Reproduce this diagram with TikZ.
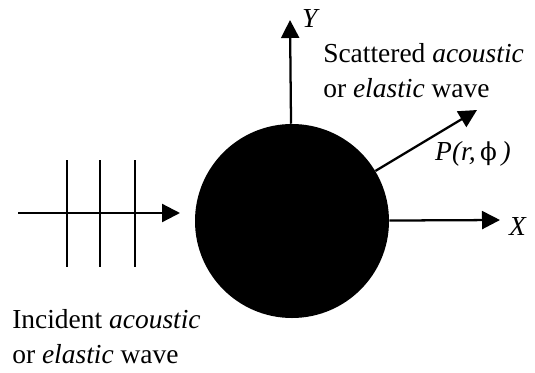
\documentclass[tikz,border=0pt]{standalone}
\usepackage{fontspec}
\setmainfont{Liberation Serif}
\newfontfamily\grkfont{DejaVu Serif}
\usetikzlibrary{positioning,arrows.meta}

\begin{document}
\begin{tikzpicture}[x=0.75pt,y=-0.75pt,
      font=\fontsize{20.6}{26.3}\selectfont,
      ball/.style={circle,fill=black,inner sep=0pt,minimum size=145.5pt},
      arr/.style={-{Triangle[length=13.5pt,width=13.5pt]},line width=1.7pt},
      front/.style={line width=1.8pt},
      lbl/.style={inner sep=0pt,align=left}]
    \useasboundingbox (0,0) rectangle (535,372);
    \node[ball] (ball) at (292,221) {};
    % axes and scattered wave
    \coordinate (ytip) at (290,20);
    \coordinate (xtip) at (500,220);
    \coordinate (ptip) at (477,110);
    \draw[arr] (ball) -- (ytip);
    \draw[arr] (ball) -- (xtip);
    \draw[arr] (ball) -- (ptip);
    \node[lbl] (ylab) at (311,19) {\textit{Y}};
    \node[lbl] (xlab) at (518,227) {\textit{X}};
    \node[lbl] (plab) at (473,154)
      {\textit{P(r,}\,{\grkfont\fontsize{18.5}{22}\selectfont ϕ}\,\textit{)}};
    % incident wave
    \coordinate (inc) at (18,213);
    \coordinate (inctip) at (180,213);
    \foreach \x in {67,100,135}
      \draw[front] (\x,160) -- (\x,267);
    \draw[arr] (inc) -- (inctip);
    % texts
    \node[lbl,anchor=north west] (scat) at (323,43)
      {Scattered \textit{acoustic}\\or \textit{elastic} wave};
    \node[lbl,anchor=north west] (incid) at (12,309)
      {Incident \textit{acoustic}\\or \textit{elastic} wave};
  \end{tikzpicture}
\end{document}
